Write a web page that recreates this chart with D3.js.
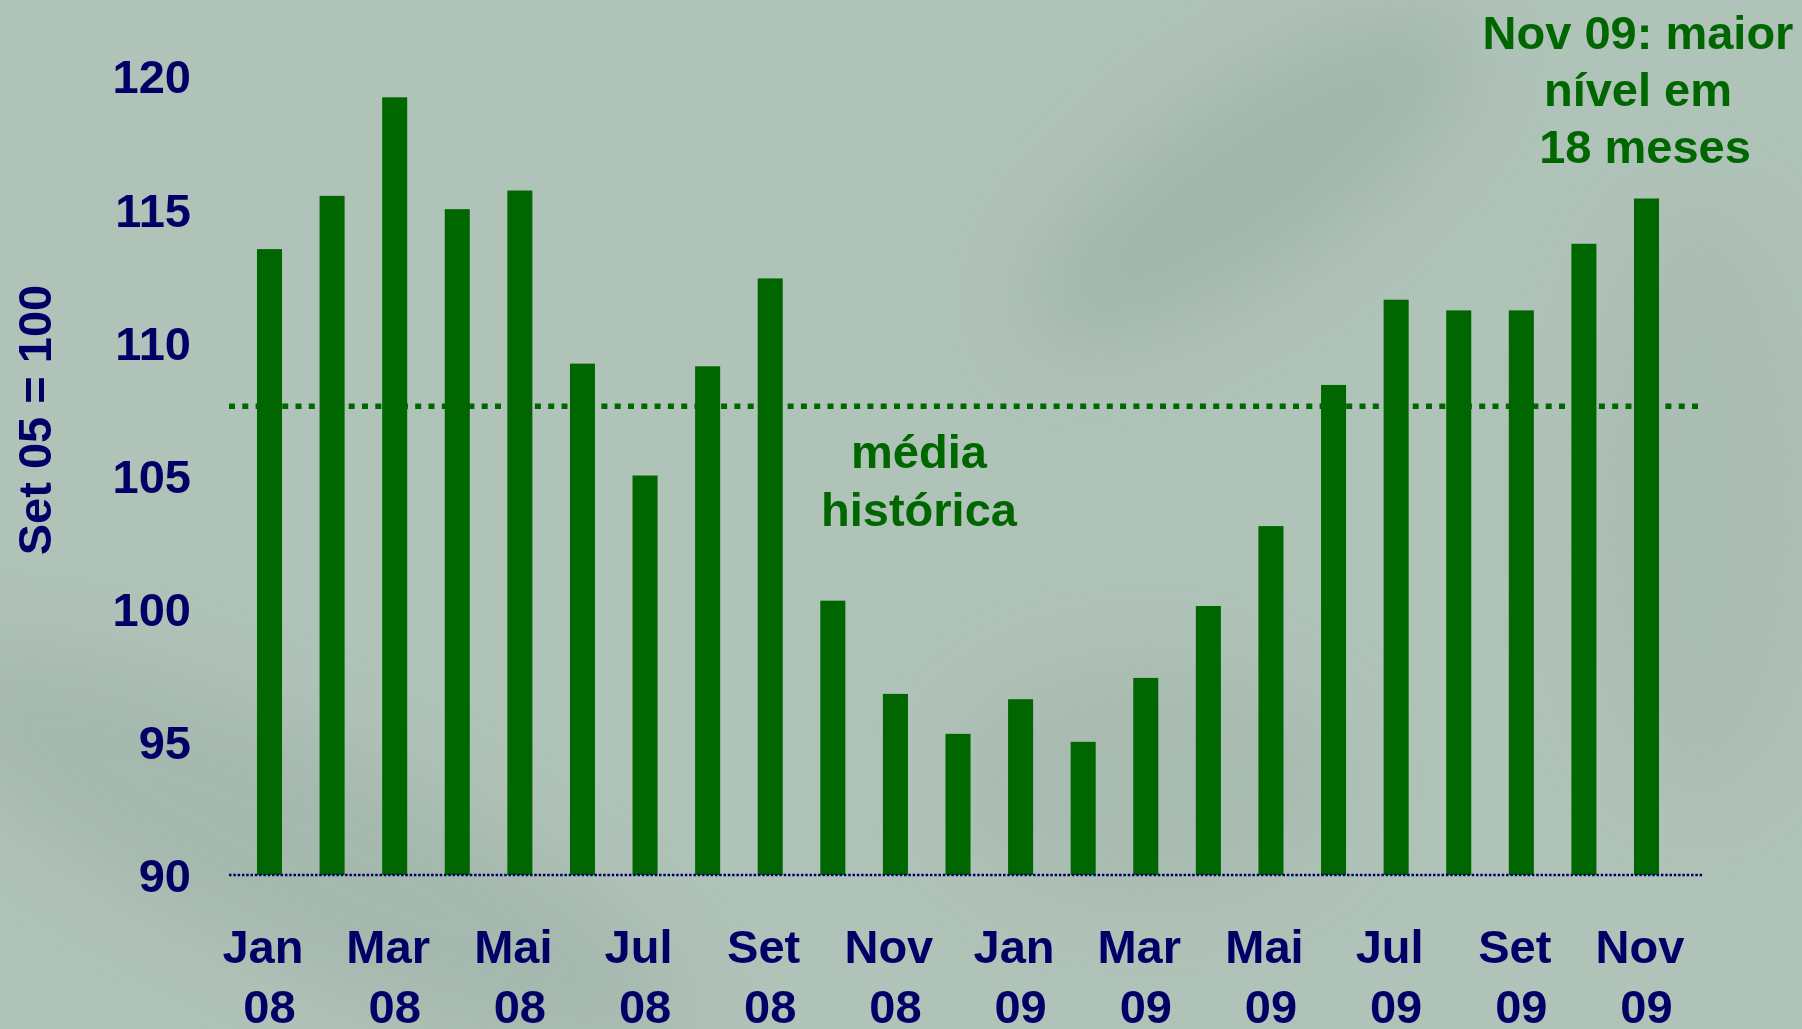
<!DOCTYPE html>
<html lang="pt-br">
<head>
<meta charset="utf-8">
<title>Índice - Set 05 = 100</title>
<script src="https://d3js.org/d3.v7.min.js"></script>
<style>
  html, body { margin: 0; padding: 0; background: #b0c3b9; overflow: hidden; }
  text { font-family: "Liberation Sans", Arial, sans-serif; font-weight: bold; }
</style>
</head>
<body>
<script>
// dados
var meses = ["Jan 08","Fev 08","Mar 08","Abr 08","Mai 08","Jun 08","Jul 08","Ago 08","Set 08","Out 08","Nov 08","Dez 08",
             "Jan 09","Fev 09","Mar 09","Abr 09","Mai 09","Jun 09","Jul 09","Ago 09","Set 09","Out 09","Nov 09"];
var valores = [113.5, 115.5, 119.2, 115.0, 115.7, 109.2, 105.0, 109.1, 112.4, 100.3, 96.8, 95.3,
               96.6, 95.0, 97.4, 100.1, 103.1, 108.4, 111.6, 111.2, 111.2, 113.7, 115.4];
var mediaHistorica = 107.6;
var ticksY = [90, 95, 100, 105, 110, 115, 120];
var rotulosX = ["Jan 08","Mar 08","Mai 08","Jul 08","Set 08","Nov 08","Jan 09","Mar 09","Mai 09","Jul 09","Set 09","Nov 09"];
var tituloY = "Set 05 = 100";
var notaMedia = ["média", "histórica"];
var notaNov = ["Nov 09: maior", "nível em", "18 meses"];

var W = 1802, H = 1029;
var verde = "#006600", azul = "#000066";

var svg = d3.select("body").append("svg")
    .attr("width", W)
    .attr("height", H);

// fundo (imitação suave da foto da cédula)
var defs = svg.append("defs");
defs.append("filter").attr("id", "blur").attr("x", "-50%").attr("y", "-50%").attr("width", "200%").attr("height", "200%")
    .append("feGaussianBlur").attr("stdDeviation", 40);
svg.append("rect").attr("width", W).attr("height", H).attr("fill", "#b0c3b9");
var fundo = svg.append("g").attr("filter", "url(#blur)");
fundo.append("ellipse").attr("cx", 1250).attr("cy", 180).attr("rx", 260).attr("ry", 90)
    .attr("transform", "rotate(-35,1250,180)").attr("fill", "#98aba1").attr("opacity", 0.55);
fundo.append("ellipse").attr("cx", 300).attr("cy", 850).attr("rx", 420).attr("ry", 110)
    .attr("transform", "rotate(25,300,850)").attr("fill", "#9aada3").attr("opacity", 0.5);
fundo.append("ellipse").attr("cx", 1150).attr("cy", 780).attr("rx", 200).attr("ry", 120)
    .attr("fill", "#9fb1a7").attr("opacity", 0.45);
fundo.append("ellipse").attr("cx", 1700).attr("cy", 500).attr("rx", 120).attr("ry", 300)
    .attr("fill", "#a2b4aa").attr("opacity", 0.4);

// escalas
var x = d3.scaleBand()
    .domain(meses)
    .range([238.2, 1677.8])
    .paddingInner(0.6)
    .paddingOuter(0.3);

var y = d3.scaleLinear()
    .domain([90, 120])
    .range([875, 76]);

// barras
svg.append("g").selectAll("rect")
    .data(valores)
    .enter()
    .append("rect")
    .attr("x", function(d, i){ return x(meses[i]); })
    .attr("y", function(d){ return y(d); })
    .attr("width", x.bandwidth())
    .attr("height", function(d){ return y(90) - y(d); })
    .attr("fill", verde);

// linha de base pontilhada
svg.append("line")
    .attr("x1", 229).attr("x2", 1703)
    .attr("y1", y(90)).attr("y2", y(90))
    .attr("stroke", azul)
    .attr("stroke-width", 2.5)
    .attr("stroke-dasharray", "2.5,1.8");

// média histórica
svg.append("line")
    .attr("x1", 229).attr("x2", 1702)
    .attr("y1", y(mediaHistorica)).attr("y2", y(mediaHistorica))
    .attr("stroke", verde)
    .attr("stroke-width", 5.5)
    .attr("stroke-dasharray", "6,7.3");

// eixo Y
var eixoY = svg.append("g")
    .attr("transform", "translate(191,0)")
    .call(d3.axisLeft(y).tickValues(ticksY).tickSize(0).tickPadding(0).tickFormat(d3.format("d")));
eixoY.select(".domain").remove();
eixoY.selectAll("text")
    .attr("fill", azul)
    .attr("font-size", 47)
    .attr("dy", "0.36em")
    .style("font-family", "'Liberation Sans', Arial, sans-serif")
    .style("font-weight", "bold");

svg.append("text")
    .attr("transform", "translate(51,420) rotate(-90)")
    .attr("text-anchor", "middle")
    .attr("font-size", 47)
    .attr("fill", azul)
    .text(tituloY);

// eixo X (duas linhas)
var rot = svg.append("g").selectAll("text")
    .data(rotulosX)
    .enter()
    .append("text")
    .attr("text-anchor", "middle")
    .attr("font-size", 47)
    .attr("fill", azul);
rot.append("tspan")
    .attr("x", function(d){ return x(d) + x.bandwidth() / 2; })
    .attr("y", 963)
    .text(function(d){ return d.split(" ")[0] + "\u00a0"; });
rot.append("tspan")
    .attr("x", function(d){ return x(d) + x.bandwidth() / 2; })
    .attr("y", 1023)
    .text(function(d){ return d.split(" ")[1]; });

// anotações
svg.append("g").selectAll("text")
    .data(notaMedia)
    .enter()
    .append("text")
    .attr("x", 919)
    .attr("y", function(d, i){ return 468 + i * 57.5; })
    .attr("text-anchor", "middle")
    .attr("font-size", 47)
    .attr("fill", verde)
    .text(function(d){ return d; });

svg.append("g").selectAll("text")
    .data(notaNov)
    .enter()
    .append("text")
    .attr("x", function(d, i){ return i == 2 ? 1645 : 1638; })
    .attr("y", function(d, i){ return 48.5 + i * 57.2; })
    .attr("text-anchor", "middle")
    .attr("font-size", 47)
    .attr("fill", verde)
    .text(function(d){ return d; });
</script>
</body>
</html>
